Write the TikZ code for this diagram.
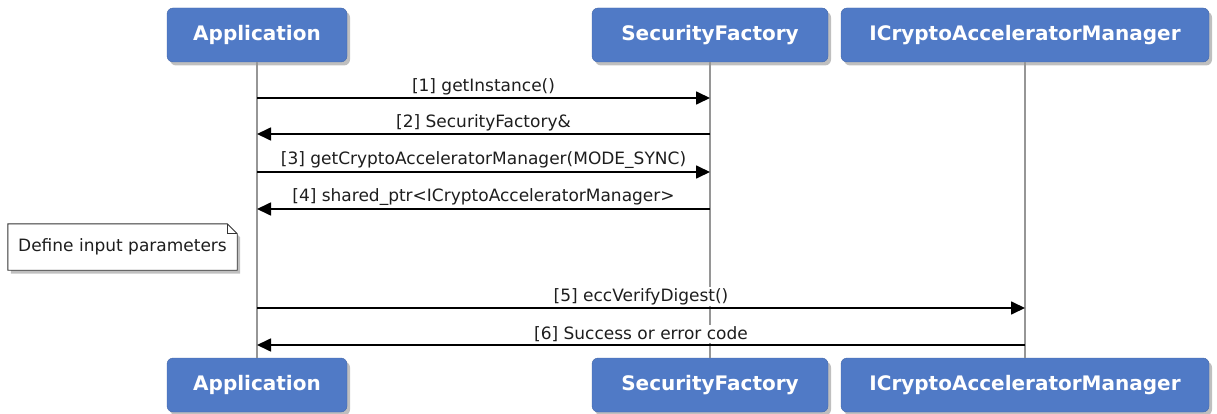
\documentclass[tikz,border=0pt]{standalone}
\usepackage{fontspec}
\setmainfont{DejaVu Sans}
\usetikzlibrary{arrows.meta,shadows,backgrounds}
\definecolor{partblue}{RGB}{80,122,198}
\definecolor{lifegray}{RGB}{150,150,150}
\definecolor{textdark}{RGB}{30,30,30}

\begin{document}
\begin{tikzpicture}[x=1pt, y=-1pt,
  every node/.style={font=\fontsize{17}{20}\selectfont, text=textdark},
  part/.style={rectangle, rounded corners=6pt, fill=partblue, draw=partblue!85!black,
    text=white, font=\fontsize{20}{24}\selectfont\bfseries, minimum height=54pt, inner sep=0pt,
    drop shadow={shadow xshift=3pt, shadow yshift=-3.5pt, opacity=0.5}},
  life/.style={lifegray, line width=1.4pt},
  msg/.style={-{Triangle[length=14pt, width=13pt]}, line width=1.7pt, black},
  mlabel/.style={midway, above=1.5pt, fill=white, inner sep=1pt},
  notebox/.style={fill=white, draw=black!80, line width=0.9pt,
    drop shadow={shadow xshift=3pt, shadow yshift=-3.5pt, opacity=0.5}}
]
\useasboundingbox (0,0) rectangle (1217,414);

% Participants
\node[part, minimum width=180pt] (apptop) at (257,35) {Application};
\node[part, minimum width=236pt] (sftop) at (710,35) {SecurityFactory};
\node[part, minimum width=368pt] (cmtop) at (1025,35) {ICryptoAcceleratorManager};
\node[part, minimum width=180pt] (appbot) at (257,385) {Application};
\node[part, minimum width=236pt] (sfbot) at (710,385) {SecurityFactory};
\node[part, minimum width=368pt] (cmbot) at (1025,385) {ICryptoAcceleratorManager};

% Lifelines
\draw[life] (apptop) -- (appbot);
\draw[life] (sftop) -- (sfbot);
\draw[life] (cmtop) -- (cmbot);

% Message levels
\coordinate (m1) at (0,98);
\coordinate (m2) at (0,134);
\coordinate (m3) at (0,172);
\coordinate (m4) at (0,209);
\coordinate (m5) at (0,308);
\coordinate (m6) at (0,345);

% Messages
\draw[msg] (apptop |- m1) -- node[mlabel] {[1] getInstance()} (sftop |- m1);
\draw[msg] (sftop |- m2) -- node[mlabel] {[2] SecurityFactory\&} (apptop |- m2);
\draw[msg] (apptop |- m3) -- node[mlabel] {[3] getCryptoAcceleratorManager(MODE\_SYNC)} (sftop |- m3);
\draw[msg] (sftop |- m4) -- node[mlabel] {[4] shared\_ptr<ICryptoAcceleratorManager>} (apptop |- m4);
\draw[msg] (apptop |- m5) -- node[mlabel] {[5] eccVerifyDigest()} (cmtop |- m5);
\draw[msg] (cmtop |- m6) -- node[mlabel] {[6] Success or error code} (apptop |- m6);

% Note
\node[minimum width=229pt, minimum height=46pt, inner sep=0pt] (note) at (122.5,247) {Define input parameters};
\begin{scope}[on background layer]
  \draw[notebox] (note.south west) -- (note.north west) -- ([xshift=-10pt]note.north east)
    -- ([yshift=-10pt]note.north east) -- (note.south east) -- cycle;
  \draw[black!80, line width=0.9pt] ([xshift=-10pt]note.north east) -- ([xshift=-10pt,yshift=-10pt]note.north east)
    -- ([yshift=-10pt]note.north east);
\end{scope}
\end{tikzpicture}
\end{document}
